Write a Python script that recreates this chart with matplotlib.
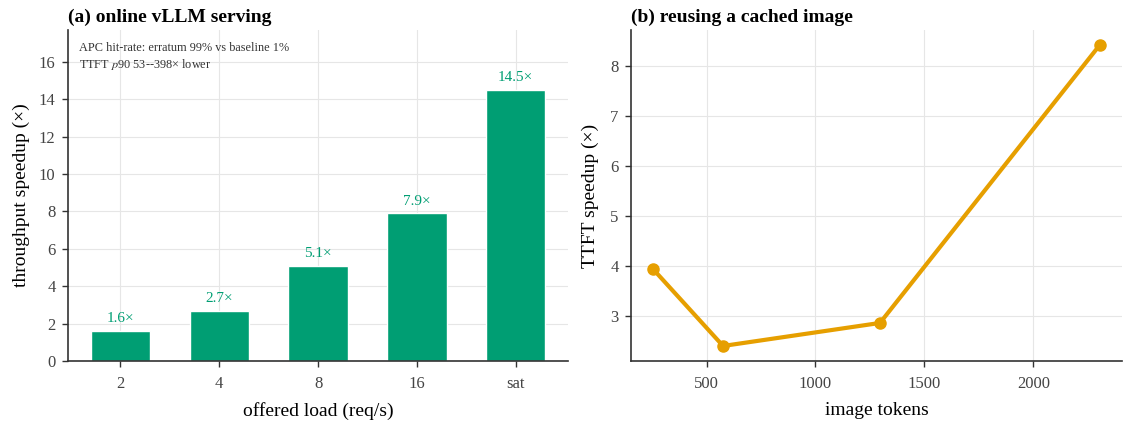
import matplotlib.pyplot as plt
import numpy as np

plt.rcParams['font.family'] = ['Liberation Serif', 'DejaVu Serif']
plt.rcParams['mathtext.fontset'] = 'stix'

# (a) online vLLM serving
load_labels = ["2", "4", "8", "16", "sat"]
throughput_speedup = [1.6, 2.7, 5.1, 7.9, 14.5]

# (b) reusing a cached image
image_tokens = [256, 576, 1296, 2304]
ttft_speedup = [3.93, 2.40, 2.86, 8.41]

green = "#009E73"
orange = "#E69F00"
spine_col = "#333333"

fig = plt.figure(figsize=(11.24, 4.21), dpi=100)
ax1 = fig.add_axes([0.0605, 0.1425, 0.445, 0.786])
ax2 = fig.add_axes([0.5614, 0.1425, 0.4368, 0.786])

for ax in (ax1, ax2):
    ax.spines["top"].set_visible(False)
    ax.spines["right"].set_visible(False)
    for s in ("left", "bottom"):
        ax.spines[s].set_color(spine_col)
        ax.spines[s].set_linewidth(1.2)
    ax.grid(True, color="#e6e6e6", linewidth=0.8)
    ax.set_axisbelow(True)
    ax.tick_params(labelsize=12, colors=spine_col, labelcolor="#444444", length=4, width=1)
    ax.tick_params(axis="x", pad=7)
    ax.tick_params(axis="y", pad=5)

x = np.arange(len(load_labels))
bars = ax1.bar(x, throughput_speedup, width=0.6, color=green, edgecolor="white", linewidth=1)
for xi, v in zip(x, throughput_speedup):
    ax1.text(xi, v + 0.3, f"{v:.1f}×", ha="center", va="bottom", color=green, fontsize=11)
ax1.set_xticks(x)
ax1.set_xticklabels(load_labels)
ax1.set_ylim(0, 17.7)
ax1.set_yticks(np.arange(0, 17, 2))
ax1.set_xlabel("offered load (req/s)", fontsize=14, labelpad=7)
ax1.set_ylabel("throughput speedup (×)", fontsize=14, labelpad=6)
ax1.set_title("(a) online vLLM serving", loc="left", fontweight="bold", fontsize=14)
ax1.text(0.022, 0.965, "APC hit-rate: erratum 99% vs baseline 1%\nTTFT $p$90 53--398× lower",
         transform=ax1.transAxes, ha="left", va="top", fontsize=8.8, color="#333333",
         linespacing=1.3)

ax2.plot(image_tokens, ttft_speedup, color=orange, linewidth=3, marker="o", markersize=8)
ax2.set_xticks([500, 1000, 1500, 2000])
ax2.set_xlabel("image tokens", fontsize=14, labelpad=7)
ax2.set_ylabel("TTFT speedup (×)", fontsize=14, labelpad=8)
ax2.set_title("(b) reusing a cached image", loc="left", fontweight="bold", fontsize=14)

plt.savefig("out.png", dpi=100)
